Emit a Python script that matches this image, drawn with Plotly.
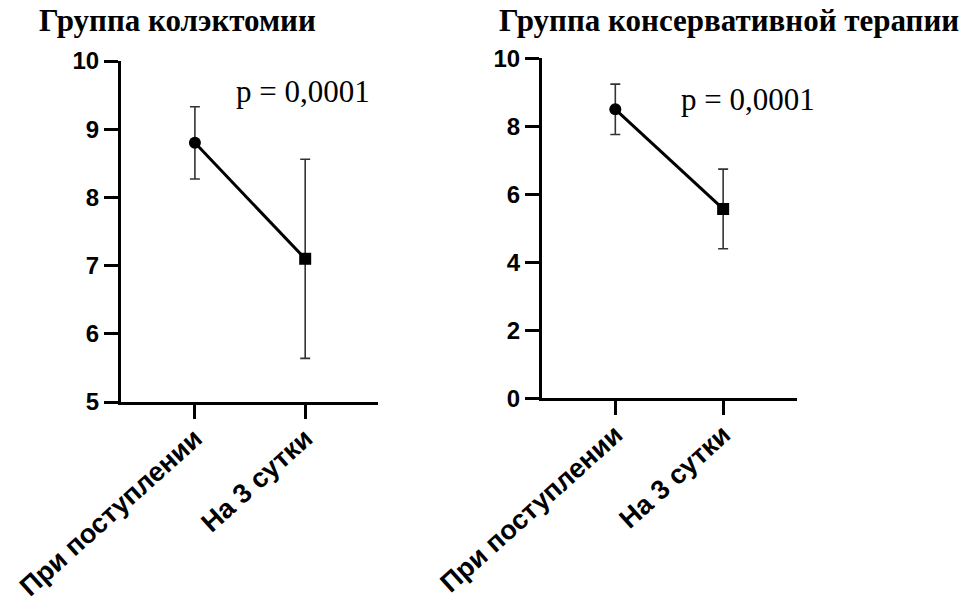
import plotly.graph_objects as go

categories = ["При поступлении", "На 3 сутки"]

left_title = "Группа колэктомии"
left_means = [8.8, 7.1]
left_err = [0.53, 1.46]
left_ticks = [5, 6, 7, 8, 9, 10]

right_title = "Группа консервативной терапии"
right_means = [8.5, 5.57]
right_err = [0.74, 1.17]
right_ticks = [0, 2, 4, 6, 8, 10]

p_text = "p = 0,0001"

fig = go.Figure()

def add_panel(means, errs, xa, ya):
    fig.add_trace(go.Scatter(
        x=categories, y=means, mode="lines+markers",
        xaxis=xa, yaxis=ya,
        line=dict(color="black", width=3),
        marker=dict(symbol=["circle", "square"], size=12, color="black"),
        error_y=dict(type="data", array=errs, visible=True,
                     color="#333333", thickness=1.6, width=5),
        showlegend=False, hoverinfo="skip",
    ))

add_panel(left_means, left_err, "x", "y")
add_panel(right_means, right_err, "x2", "y2")

ytickfont = dict(family="Liberation Sans, Arial", size=24, color="black", weight="bold")
xtickfont = dict(family="Liberation Sans, Arial", size=27, color="black", weight="bold")
xcommon = dict(type="category", showgrid=False, zeroline=False, showline=True,
               linecolor="black", linewidth=3, ticks="outside", ticklen=14,
               tickwidth=3, tickcolor="black", tickangle=-42, tickfont=xtickfont,
               ticklabelstandoff=-7, automargin=False)
ycommon = dict(showgrid=False, zeroline=False, showline=True, linecolor="black",
               linewidth=3, ticks="outside", ticklen=14, tickwidth=3,
               tickcolor="black", tickfont=ytickfont, automargin=False)

fig.update_layout(
    width=968, height=601,
    margin=dict(l=0, r=0, t=0, b=0, autoexpand=False),
    paper_bgcolor="white", plot_bgcolor="white",
    xaxis=dict(xcommon, domain=[121/968, 378/968], range=[-0.67, 1.66], anchor="y"),
    yaxis=dict(ycommon, domain=[1-402/601, 1-61/601], range=[5, 10],
               tickvals=left_ticks, anchor="x"),
    xaxis2=dict(xcommon, domain=[542/968, 797/968], range=[-0.68, 1.685], anchor="y2"),
    yaxis2=dict(ycommon, domain=[1-398.3/601, 1-58.3/601], range=[0, 10],
                tickvals=right_ticks, anchor="x2"),
)

titlefont = dict(family="Liberation Serif, Times New Roman", size=31, color="black")
pfont = dict(family="Liberation Serif, Times New Roman", size=31, color="black")

fig.add_annotation(text="<b>" + left_title + "</b>", xref="paper", yref="paper",
                   x=37/968, y=1-21/601, xanchor="left", yanchor="middle",
                   showarrow=False, font=titlefont)
fig.add_annotation(text="<b>" + right_title + "</b>", xref="paper", yref="paper",
                   x=497/968, y=1-21/601, xanchor="left", yanchor="middle",
                   showarrow=False, font=titlefont)
fig.add_annotation(text=p_text, xref="paper", yref="paper",
                   x=303/968, y=1-92/601, xanchor="center", yanchor="middle",
                   showarrow=False, font=pfont)
fig.add_annotation(text=p_text, xref="paper", yref="paper",
                   x=748/968, y=1-100/601, xanchor="center", yanchor="middle",
                   showarrow=False, font=pfont)

fig.write_html("out.html")
